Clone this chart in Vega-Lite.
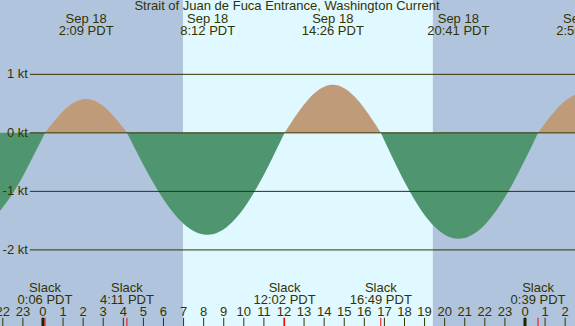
{
  "$schema": "https://vega.github.io/schema/vega-lite/v6.json",
  "width": 575,
  "height": 326,
  "autosize": {"type": "none"},
  "padding": 0,
  "config": {"view": {"stroke": null}, "font": "Liberation Sans"},
  "datasets": {
    "bands": [
      {"start": -2.14, "end": 6.97, "period": "night"},
      {"start": 6.97, "end": 19.41, "period": "day"},
      {"start": 19.41, "end": 26.49, "period": "night"}
    ],
    "current": [
      {"t": -2.14, "v": -1.33, "seg": 1, "phase": "ebb"},
      {"t": -2.0, "v": -1.27, "seg": 1, "phase": "ebb"},
      {"t": -1.5, "v": -1.03, "seg": 1, "phase": "ebb"},
      {"t": -1.0, "v": -0.74, "seg": 1, "phase": "ebb"},
      {"t": -0.5, "v": -0.41, "seg": 1, "phase": "ebb"},
      {"t": 0.0, "v": -0.07, "seg": 1, "phase": "ebb"},
      {"t": 0.1, "v": 0, "seg": 1, "phase": "ebb"},
      {"t": 0.1, "v": 0, "seg": 2, "phase": "flood"},
      {"t": 0.5, "v": 0.175, "seg": 2, "phase": "flood"},
      {"t": 1.0, "v": 0.369, "seg": 2, "phase": "flood"},
      {"t": 1.5, "v": 0.51, "seg": 2, "phase": "flood"},
      {"t": 2.0, "v": 0.576, "seg": 2, "phase": "flood"},
      {"t": 2.15, "v": 0.58, "seg": 2, "phase": "flood"},
      {"t": 2.5, "v": 0.559, "seg": 2, "phase": "flood"},
      {"t": 3.0, "v": 0.459, "seg": 2, "phase": "flood"},
      {"t": 3.5, "v": 0.291, "seg": 2, "phase": "flood"},
      {"t": 4.0, "v": 0.081, "seg": 2, "phase": "flood"},
      {"t": 4.18, "v": 0, "seg": 2, "phase": "flood"},
      {"t": 4.18, "v": 0, "seg": 3, "phase": "ebb"},
      {"t": 4.5, "v": -0.217, "seg": 3, "phase": "ebb"},
      {"t": 5.0, "v": -0.548, "seg": 3, "phase": "ebb"},
      {"t": 5.5, "v": -0.858, "seg": 3, "phase": "ebb"},
      {"t": 6.0, "v": -1.136, "seg": 3, "phase": "ebb"},
      {"t": 6.5, "v": -1.37, "seg": 3, "phase": "ebb"},
      {"t": 7.0, "v": -1.552, "seg": 3, "phase": "ebb"},
      {"t": 7.5, "v": -1.675, "seg": 3, "phase": "ebb"},
      {"t": 8.0, "v": -1.735, "seg": 3, "phase": "ebb"},
      {"t": 8.2, "v": -1.74, "seg": 3, "phase": "ebb"},
      {"t": 8.5, "v": -1.727, "seg": 3, "phase": "ebb"},
      {"t": 9.0, "v": -1.647, "seg": 3, "phase": "ebb"},
      {"t": 9.5, "v": -1.498, "seg": 3, "phase": "ebb"},
      {"t": 10.0, "v": -1.287, "seg": 3, "phase": "ebb"},
      {"t": 10.5, "v": -1.022, "seg": 3, "phase": "ebb"},
      {"t": 11.0, "v": -0.716, "seg": 3, "phase": "ebb"},
      {"t": 11.5, "v": -0.375, "seg": 3, "phase": "ebb"},
      {"t": 12.03, "v": 0, "seg": 3, "phase": "ebb"},
      {"t": 12.03, "v": 0, "seg": 4, "phase": "flood"},
      {"t": 12.5, "v": 0.248, "seg": 4, "phase": "flood"},
      {"t": 13.0, "v": 0.486, "seg": 4, "phase": "flood"},
      {"t": 13.5, "v": 0.673, "seg": 4, "phase": "flood"},
      {"t": 14.0, "v": 0.788, "seg": 4, "phase": "flood"},
      {"t": 14.43, "v": 0.82, "seg": 4, "phase": "flood"},
      {"t": 15.0, "v": 0.763, "seg": 4, "phase": "flood"},
      {"t": 15.5, "v": 0.625, "seg": 4, "phase": "flood"},
      {"t": 16.0, "v": 0.421, "seg": 4, "phase": "flood"},
      {"t": 16.5, "v": 0.171, "seg": 4, "phase": "flood"},
      {"t": 16.82, "v": 0, "seg": 4, "phase": "flood"},
      {"t": 16.82, "v": 0, "seg": 5, "phase": "ebb"},
      {"t": 17.0, "v": -0.132, "seg": 5, "phase": "ebb"},
      {"t": 17.5, "v": -0.494, "seg": 5, "phase": "ebb"},
      {"t": 18.0, "v": -0.836, "seg": 5, "phase": "ebb"},
      {"t": 18.5, "v": -1.143, "seg": 5, "phase": "ebb"},
      {"t": 19.0, "v": -1.403, "seg": 5, "phase": "ebb"},
      {"t": 19.5, "v": -1.605, "seg": 5, "phase": "ebb"},
      {"t": 20.0, "v": -1.741, "seg": 5, "phase": "ebb"},
      {"t": 20.68, "v": -1.81, "seg": 5, "phase": "ebb"},
      {"t": 21.0, "v": -1.796, "seg": 5, "phase": "ebb"},
      {"t": 21.5, "v": -1.716, "seg": 5, "phase": "ebb"},
      {"t": 22.0, "v": -1.569, "seg": 5, "phase": "ebb"},
      {"t": 22.5, "v": -1.361, "seg": 5, "phase": "ebb"},
      {"t": 23.0, "v": -1.1, "seg": 5, "phase": "ebb"},
      {"t": 23.5, "v": -0.795, "seg": 5, "phase": "ebb"},
      {"t": 24.0, "v": -0.46, "seg": 5, "phase": "ebb"},
      {"t": 24.5, "v": -0.108, "seg": 5, "phase": "ebb"},
      {"t": 24.65, "v": 0, "seg": 5, "phase": "ebb"},
      {"t": 24.65, "v": 0, "seg": 6, "phase": "flood"},
      {"t": 25.0, "v": 0.163, "seg": 6, "phase": "flood"},
      {"t": 25.5, "v": 0.377, "seg": 6, "phase": "flood"},
      {"t": 26.0, "v": 0.547, "seg": 6, "phase": "flood"},
      {"t": 26.5, "v": 0.652, "seg": 6, "phase": "flood"}
    ],
    "levels": [
      {"kt": 1, "label": "1 kt"},
      {"kt": 0, "label": "0 kt"},
      {"kt": -1, "label": "-1 kt"},
      {"kt": -2, "label": "-2 kt"}
    ],
    "extremes": [
      {"t": 2.15, "date": "Sep 18", "time": "2:09 PDT"},
      {"t": 8.2, "date": "Sep 18", "time": "8:12 PDT"},
      {"t": 14.43, "date": "Sep 18", "time": "14:26 PDT"},
      {"t": 20.68, "date": "Sep 18", "time": "20:41 PDT"},
      {"t": 26.92, "date": "Sep 19", "time": "2:55 PDT"}
    ],
    "slacks": [
      {"t": 0.1, "label": "Slack", "time": "0:06 PDT"},
      {"t": 4.18, "label": "Slack", "time": "4:11 PDT"},
      {"t": 12.03, "label": "Slack", "time": "12:02 PDT"},
      {"t": 16.82, "label": "Slack", "time": "16:49 PDT"},
      {"t": 24.65, "label": "Slack", "time": "0:39 PDT"}
    ],
    "hours": [
      {"t": -2, "label": "22"}, {"t": -1, "label": "23"}, {"t": 0, "label": "0"}, {"t": 1, "label": "1"},
      {"t": 2, "label": "2"}, {"t": 3, "label": "3"}, {"t": 4, "label": "4"}, {"t": 5, "label": "5"},
      {"t": 6, "label": "6"}, {"t": 7, "label": "7"}, {"t": 8, "label": "8"}, {"t": 9, "label": "9"},
      {"t": 10, "label": "10"}, {"t": 11, "label": "11"}, {"t": 12, "label": "12"}, {"t": 13, "label": "13"},
      {"t": 14, "label": "14"}, {"t": 15, "label": "15"}, {"t": 16, "label": "16"}, {"t": 17, "label": "17"},
      {"t": 18, "label": "18"}, {"t": 19, "label": "19"}, {"t": 20, "label": "20"}, {"t": 21, "label": "21"},
      {"t": 22, "label": "22"}, {"t": 23, "label": "23"}, {"t": 24, "label": "0"}, {"t": 25, "label": "1"},
      {"t": 26, "label": "2"}
    ],
    "midnights": [{"t": 0}, {"t": 24}],
    "titles": [{"t": 12.15, "text": "Strait of Juan de Fuca Entrance, Washington Current"}]
  },
  "layer": [
    {
      "data": {"name": "bands"},
      "mark": {"type": "rect"},
      "encoding": {
        "x": {"field": "start", "type": "quantitative", "scale": {"domain": [-2.14, 26.49], "nice": false, "zero": false}, "axis": null},
        "x2": {"field": "end"},
        "color": {"field": "period", "type": "nominal", "scale": {"domain": ["night", "day"], "range": ["#b0c4de", "#e0f8ff"]}, "legend": null}
      }
    },
    {
      "data": {"name": "current"},
      "mark": {"type": "area", "interpolate": "monotone", "clip": true},
      "encoding": {
        "x": {"field": "t", "type": "quantitative", "axis": null},
        "y": {"field": "v", "type": "quantitative", "scale": {"domain": [-3.3, 2.27], "nice": false, "zero": false}, "axis": null},
        "y2": {"datum": 0},
        "detail": {"field": "seg", "type": "nominal"},
        "fill": {"field": "phase", "type": "nominal", "scale": {"domain": ["flood", "ebb"], "range": ["#bf9b7a", "#4f9670"]}, "legend": null}
      }
    },
    {
      "data": {"name": "levels"},
      "mark": {"type": "rule", "color": "#333300", "strokeWidth": 1},
      "encoding": {
        "y": {"field": "kt", "type": "quantitative", "axis": null},
        "x": {"datum": -0.65, "type": "quantitative", "axis": null},
        "x2": {"datum": 26.49}
      }
    },
    {
      "data": {"name": "levels"},
      "mark": {"type": "text", "align": "right", "baseline": "middle", "fontSize": 13, "color": "#333300"},
      "encoding": {
        "y": {"field": "kt", "type": "quantitative", "axis": null},
        "x": {"datum": -0.75, "type": "quantitative", "axis": null},
        "text": {"field": "label"}
      }
    },
    {
      "data": {"name": "titles"},
      "mark": {"type": "text", "align": "center", "baseline": "alphabetic", "fontSize": 13, "color": "#333300"},
      "encoding": {
        "x": {"field": "t", "type": "quantitative", "axis": null},
        "y": {"datum": 2.1, "type": "quantitative", "axis": null},
        "text": {"field": "text"}
      }
    },
    {
      "data": {"name": "extremes"},
      "mark": {"type": "text", "align": "center", "baseline": "alphabetic", "fontSize": 13, "color": "#333300"},
      "encoding": {
        "x": {"field": "t", "type": "quantitative", "axis": null},
        "y": {"datum": 1.88, "type": "quantitative", "axis": null},
        "text": {"field": "date"}
      }
    },
    {
      "data": {"name": "extremes"},
      "mark": {"type": "text", "align": "center", "baseline": "alphabetic", "fontSize": 13, "color": "#333300"},
      "encoding": {
        "x": {"field": "t", "type": "quantitative", "axis": null},
        "y": {"datum": 1.667, "type": "quantitative", "axis": null},
        "text": {"field": "time"}
      }
    },
    {
      "data": {"name": "slacks"},
      "mark": {"type": "text", "align": "center", "baseline": "alphabetic", "fontSize": 13, "color": "#333300"},
      "encoding": {
        "x": {"field": "t", "type": "quantitative", "axis": null},
        "y": {"datum": -2.718, "type": "quantitative", "axis": null},
        "text": {"field": "label"}
      }
    },
    {
      "data": {"name": "slacks"},
      "mark": {"type": "text", "align": "center", "baseline": "alphabetic", "fontSize": 13, "color": "#333300"},
      "encoding": {
        "x": {"field": "t", "type": "quantitative", "axis": null},
        "y": {"datum": -2.923, "type": "quantitative", "axis": null},
        "text": {"field": "time"}
      }
    },
    {
      "data": {"name": "hours"},
      "mark": {"type": "text", "align": "center", "baseline": "alphabetic", "fontSize": 13, "color": "#333300"},
      "encoding": {
        "x": {"field": "t", "type": "quantitative", "axis": null},
        "y": {"datum": -3.128, "type": "quantitative", "axis": null},
        "text": {"field": "label"}
      }
    },
    {
      "data": {"name": "hours"},
      "mark": {"type": "rule", "color": "#333300", "strokeWidth": 1},
      "encoding": {
        "x": {"field": "t", "type": "quantitative", "axis": null},
        "y": {"datum": -3.16, "type": "quantitative", "axis": null},
        "y2": {"datum": -3.3}
      }
    },
    {
      "data": {"name": "midnights"},
      "mark": {"type": "rule", "color": "#222200", "strokeWidth": 3},
      "encoding": {
        "x": {"field": "t", "type": "quantitative", "axis": null},
        "y": {"datum": -3.16, "type": "quantitative", "axis": null},
        "y2": {"datum": -3.3}
      }
    },
    {
      "data": {"name": "slacks"},
      "mark": {"type": "rule", "color": "#ff0000", "strokeWidth": 1},
      "encoding": {
        "x": {"field": "t", "type": "quantitative", "axis": null},
        "y": {"datum": -3.16, "type": "quantitative", "axis": null},
        "y2": {"datum": -3.3}
      }
    }
  ]
}
